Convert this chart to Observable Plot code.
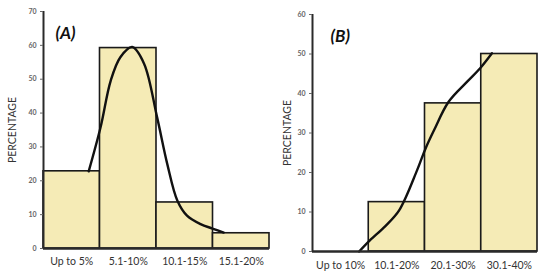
<!DOCTYPE html>
<html>
<head>
<meta charset="utf-8">
<script src="https://cdn.jsdelivr.net/npm/d3@7"></script>
<script src="https://cdn.jsdelivr.net/npm/@observablehq/plot@0.6"></script>
<style>
  html, body { margin: 0; padding: 0; background: #fff; }
  #wrap { display: flex; width: 547px; height: 276px; }
  #wrap svg { display: block; }
</style>
</head>
<body>
<div id="wrap"><div id="a"></div><div id="b"></div></div>
<script>
// Panel A data
const catsA = ["Up to 5%", "5.1-10%", "10.1-15%", "15.1-20%"];
const valsA = [22.8, 59.2, 13.6, 4.5];
const curveAx = [0.80, 1.01, 1.19, 1.36, 1.57, 1.78, 2.01, 2.19, 2.37, 2.54, 2.78, 2.99, 3.19];
const curveAy = [22.8, 35.8, 49.6, 56.5, 59.5, 54.6, 38.8, 25.0, 14.1, 9.7, 7.2, 5.9, 4.7];
const ticksA = [0, 10, 20, 30, 40, 50, 60, 70];

// Panel B data
const catsB = ["Up to 10%", "10.1-20%", "20.1-30%", "30.1-40%"];
const valsB = [0, 12.5, 37.5, 50];
const curveBx = [0.83, 1.02, 1.30, 1.54, 1.86, 2.01, 2.16, 2.42, 2.75, 2.98, 3.19];
const curveBy = [0, 2.8, 6.5, 10.4, 20.6, 26.1, 30.7, 37.9, 43.0, 46.4, 50.2];
const ticksB = [0, 10, 20, 30, 40, 50, 60];

const panelLabels = ["(A)", "(B)"];
const axisTitle = "PERCENTAGE";

const FILL = "#F5EBB6";
const FONT = "Lato, 'Open Sans', sans-serif";

function panel({cats, vals, cx, cy, ticks, yMax, label, width, mL, mR, mT, mB, tagDx, labelOffset, xPad}) {
  const bars = cats.map((c, i) => ({i, c, v: vals[i]})).filter(d => d.v > 0);
  const curve = cx.map((x, i) => ({x, y: cy[i]}));
  return Plot.plot({
    width, height: 276,
    marginLeft: mL, marginRight: mR, marginTop: mT, marginBottom: mB,
    style: {fontFamily: FONT, background: "#fff", overflow: "visible"},
    x: {domain: [0, cats.length]},
    y: {domain: [0, yMax]},
    marks: [
      Plot.rectY(bars, {x1: d => d.i, x2: d => d.i + 1, y1: 0, y2: "v", fill: FILL, stroke: "#1a1a1a", strokeWidth: 1.6}),
      Plot.line(curve, {x: "x", y: "y", curve: "catmull-rom", stroke: "#111", strokeWidth: 2.4}),
      Plot.ruleX([0], {stroke: "#2a2a2a", strokeWidth: 2}),
      Plot.ruleY([0], {stroke: "#2a2a2a", strokeWidth: 2.5}),
      Plot.axisY({ticks, tickSize: 3, tickPadding: 4, fontSize: 7, fontWeight: "bold", color: "#666", label: null}),
      Plot.axisY({ticks: [], tickSize: 0, label: axisTitle, labelAnchor: "center", labelArrow: "none", labelOffset, fontSize: 10.5, color: "#333"}),
      Plot.axisX({ticks: cats.map((c, i) => i + 0.5), tickFormat: (d) => cats[Math.floor(d)], tickSize: 0, tickPadding: xPad, fontSize: 10.5, color: "#333", label: null}),
      Plot.text([label], {frameAnchor: "top-left", textAnchor: "start", lineAnchor: "top", dx: tagDx, dy: 15, fontSize: 17, fontWeight: "bold", fontStyle: "italic", fill: "#111", text: d => d})
    ]
  });
}

document.getElementById("a").append(panel({
  cats: catsA, vals: valsA, cx: curveAx, cy: curveAy, ticks: ticksA, yMax: 70, label: panelLabels[0],
  width: 275, mL: 43, mR: 6, mT: 11, mB: 28, tagDx: 12, labelOffset: 35, xPad: 9
}));
document.getElementById("b").append(panel({
  cats: catsB, vals: valsB, cx: curveBx, cy: curveBy, ticks: ticksB, yMax: 60, label: panelLabels[1],
  width: 272, mL: 37, mR: 10, mT: 14, mB: 25, tagDx: 18, labelOffset: 29, xPad: 10
}));
</script>
</body>
</html>
